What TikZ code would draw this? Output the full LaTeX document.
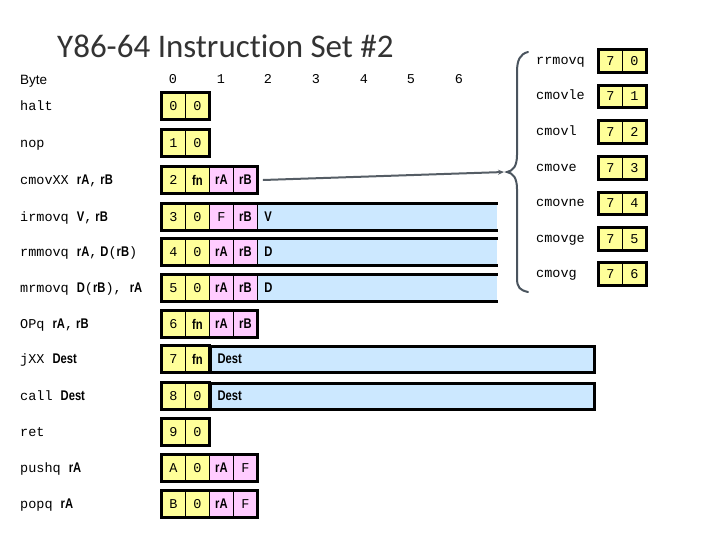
\documentclass[tikz,border=0pt]{standalone}
\usepackage{fontspec}
\setmonofont{Liberation Mono}
\newfontfamily\titlefont[Ligatures={NoCommon,NoRare}]{Carlito}
\newfontfamily\bsans[FakeStretch=0.8]{Liberation Sans}
\newfontfamily\plainsans{Liberation Sans}
\usetikzlibrary{arrows.meta}
\definecolor{cYel}{HTML}{FFFF99}
\definecolor{cPink}{HTML}{FFCCFF}
\definecolor{cBlue}{HTML}{CCE8FF}
\definecolor{cBrace}{HTML}{4A545E}
\newcommand\tx{\fontsize{13.5}{15}\selectfont\ttfamily}
\newcommand\bx{\fontsize{14}{16}\selectfont\bsans\bfseries}
\newcommand\ob[1]{{\bx #1}}
\newcommand\tc[1]{{\tx #1}}
\newcommand\instrrow[3]{\foreach \c/\t [count=\i from 0] in {#3} {\node[nib,fill=\c] (#1-\i) at ({161+24*\i},#2) {\t};}}
\newcommand\crow[3]{%
  \node[lab] (#1-l) at (536,#2+3) {#1};
  \node[rnib] (#1-0) at (598,#2) {7};
  \node[rnib] (#1-1) at (622,#2) {#3};
  \draw[outer] (#1-0.north west) rectangle (#1-1.south east);}
\begin{document}
\begin{tikzpicture}[x=1pt,y=-1pt,
  nib/.style={draw=black, line width=0.8pt, minimum width=24pt, minimum height=26pt, inner sep=0pt, anchor=west, font=\tx},
  rnib/.style={nib, fill=cYel, minimum height=22pt},
  bluebox/.style={nib, fill=cBlue, draw=none, align=left, inner xsep=7pt, font=\bx},
  outer/.style={draw=black, line width=3pt},
  lab/.style={anchor=base west, inner sep=0pt, font=\tx},
  hdr/.style={anchor=base, inner sep=0pt, font=\tx},
  ]
\useasboundingbox (0,0) rectangle (719,539);
% title
\node[anchor=base west, inner sep=0pt, font=\titlefont\fontsize{33}{36}\selectfont, text=black!80] (title) at (57,57) {Y86-64 Instruc\kern0pt tion Set \#2};
% header
\node[anchor=base west, inner sep=0pt, font=\plainsans\fontsize{13.5}{15}\selectfont] (byte) at (20,84) {Byte};
\foreach \n/\x in {0/173,1/221,2/268,3/316,4/364,5/411,6/459}
  \node[hdr] (h\n) at (\x,83) {\n};
% left labels
\node[lab] (lab-halt) at (20,110) {halt};
\node[lab] (lab-nop) at (20,147) {nop};
\node[lab] (lab-cmov) at (20,184) {cmovXX \ob{rA}\tc{,}\hspace{3pt}\ob{rB}};
\node[lab] (lab-irm) at (20,221) {irmovq \ob{V}\tc{,}\hspace{3pt}\ob{rB}};
\node[lab] (lab-rmm) at (20,256) {rmmovq \ob{rA}\tc{,}\hspace{3pt}\ob{D}\tc{(}\ob{rB}\tc{)}};
\node[lab] (lab-mrm) at (20,292) {mrmovq \ob{D}\tc{(}\ob{rB}\tc{)}, \ob{rA}};
\node[lab] (lab-opq) at (20,328) {OPq \ob{rA}\tc{,}\hspace{3pt}\ob{rB}};
\node[lab] (lab-jxx) at (20,363) {jXX \ob{Dest}};
\node[lab] (lab-call) at (20,400) {call \ob{Dest}};
\node[lab] (lab-ret) at (20,436) {ret};
\node[lab] (lab-push) at (20,472) {pushq \ob{rA}};
\node[lab] (lab-pop) at (20,508) {popq \ob{rA}};
% blue parts first
\node[bluebox, text width=226pt] (irm-4) at (257,217) {V};
\node[bluebox, text width=226pt] (rmm-4) at (257,252) {D};
\node[bluebox, text width=226pt] (mrm-4) at (257,288) {D};
\node[bluebox, draw=black, line width=3pt, text width=370pt] (jxx-2) at (209,359) {Dest};
\node[bluebox, draw=black, line width=3pt, text width=370pt] (call-2) at (209,396) {Dest};
% cells
\instrrow{halt}{106}{cYel/0,cYel/0}
\instrrow{nop}{143}{cYel/1,cYel/0}
\instrrow{cmov}{180}{cYel/2,cYel/\ob{fn},cPink/\ob{rA},cPink/\ob{rB}}
\instrrow{irm}{217}{cYel/3,cYel/0,cPink/F,cPink/\ob{rB}}
\instrrow{rmm}{252}{cYel/4,cYel/0,cPink/\ob{rA},cPink/\ob{rB}}
\instrrow{mrm}{288}{cYel/5,cYel/0,cPink/\ob{rA},cPink/\ob{rB}}
\instrrow{opq}{324}{cYel/6,cYel/\ob{fn},cPink/\ob{rA},cPink/\ob{rB}}
\instrrow{jxx}{359}{cYel/7,cYel/\ob{fn}}
\instrrow{call}{396}{cYel/8,cYel/0}
\instrrow{ret}{432}{cYel/9,cYel/0}
\instrrow{push}{468}{cYel/A,cYel/0,cPink/\ob{rA},cPink/F}
\instrrow{pop}{504}{cYel/B,cYel/0,cPink/\ob{rA},cPink/F}
% outer borders
\draw[outer] (halt-0.north west) rectangle (halt-1.south east);
\draw[outer] (nop-0.north west) rectangle (nop-1.south east);
\draw[outer] (cmov-0.north west) rectangle (cmov-3.south east);
\foreach \r in {irm,rmm,mrm}
  \draw[outer] (\r-4.north east) -- (\r-0.north west) -- (\r-0.south west) -- (\r-4.south east);
\draw[outer] (opq-0.north west) rectangle (opq-3.south east);
\draw[outer] (jxx-0.north west) rectangle (jxx-1.south east);
\draw[outer] (call-0.north west) rectangle (call-1.south east);
\draw[outer] (ret-0.north west) rectangle (ret-1.south east);
\draw[outer] (push-0.north west) rectangle (push-3.south east);
\draw[outer] (pop-0.north west) rectangle (pop-3.south east);
% right panel
\crow{rrmovq}{61}{0}
\crow{cmovle}{96.5}{1}
\crow{cmovl}{132}{2}
\crow{cmove}{168}{3}
\crow{cmovne}{203.5}{4}
\crow{cmovge}{239}{5}
\crow{cmovg}{274}{6}
% brace
\draw[cBrace, line width=2pt, line cap=round]
  (528,52) .. controls (520,54) and (517,60) .. (517,72) -- (517,155)
  .. controls (517,166) and (513,171) .. (507,172)
  .. controls (513,173) and (517,178) .. (517,189) -- (517,278)
  .. controls (517,288) and (520,290) .. (528,292);
\coordinate (bt) at (504,172);
\draw[cBrace!80!gray, line width=2pt, -{Stealth[length=6pt,width=5pt]}] ([xshift=5pt]cmov-3.east) -- (bt);
\end{tikzpicture}
\end{document}
